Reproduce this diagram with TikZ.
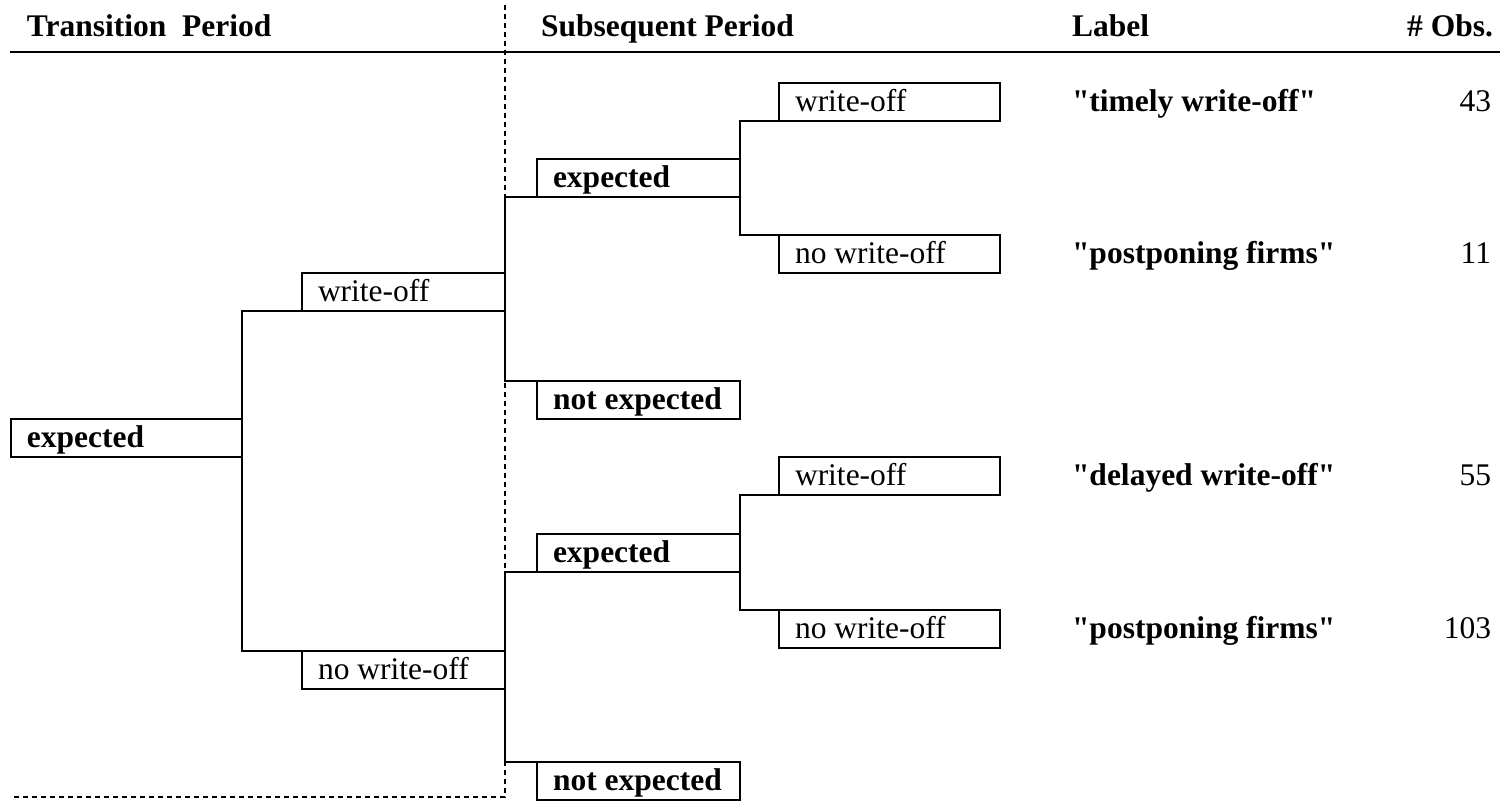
\documentclass[tikz,border=0pt]{standalone}
\usepackage{fontspec}
\setmainfont{Liberation Serif}[Ligatures=TeXOff]
\newcommand\bxtext[2]{\hbox to #1{\hskip16pt #2\hfil}}
\newcommand\qq{\symbol{34}}
\begin{document}
\begin{tikzpicture}[x=1pt,y=-1pt,
  txt/.style={font=\fontsize{31.5}{36}\selectfont, inner sep=0pt, outer sep=0pt},
  bx/.style={txt, draw, line width=2pt, rectangle, anchor=north west,
    inner xsep=0pt, inner ysep=0pt, outer sep=0pt, minimum height=38pt,
    text height=24pt, text depth=5pt},
  bld/.style={font=\fontsize{31.5}{36}\selectfont\bfseries},
  conn/.style={line width=2pt, line join=miter},
  sep/.style={line width=1.6pt, dash pattern=on 5pt off 4pt}]
\useasboundingbox (0,0) rectangle (1505,802);

% headers
\node[txt, bld, anchor=base west] (h1) at (27,37) {Transition\ \ Period};
\node[txt, bld, anchor=base west] (h2) at (541,37) {Subsequent Period};
\node[txt, bld, anchor=base west] (h3) at (1072,37) {Label};
\node[txt, bld, anchor=base east] (h4) at (1493,37) {\# Obs.};
\coordinate (hl) at (10,52);
\coordinate (hr) at (1500,52);
\draw[line width=2pt] (hl) -- (hr);

% separators
\coordinate (dt) at (505,5);
\coordinate (db) at (505,797);
\coordinate (dl) at (10,797);
\draw[sep] (dt) -- (db) -- (dl);

% boxes
\node[bx, bld] (exp1) at (11,419) {\bxtext{231pt}{expected}};
\node[bx] (wo2) at (302,273) {\bxtext{203pt}{write-off}};
\node[bx] (nwo2) at (302,651) {\bxtext{203pt}{no write-off}};
\node[bx, bld] (e3a) at (537,159) {\bxtext{203pt}{expected}};
\node[bx, bld] (ne3a) at (537,381) {\bxtext{203pt}{not expected}};
\node[bx, bld] (e3b) at (537,534) {\bxtext{203pt}{expected}};
\node[bx, bld] (ne3b) at (537,762) {\bxtext{203pt}{not expected}};
\node[bx] (wo3a) at (779,83) {\bxtext{221pt}{write-off}};
\node[bx] (nwo3a) at (779,235) {\bxtext{221pt}{no write-off}};
\node[bx] (wo3b) at (779,457) {\bxtext{221pt}{write-off}};
\node[bx] (nwo3b) at (779,610) {\bxtext{221pt}{no write-off}};

% connectors
\draw[conn] (wo2.south west) -| (exp1.north east) -- (exp1.south east) |- (nwo2.north west);
\draw[conn] (e3a.south west) -| (wo2.north east) -- (wo2.south east) |- (ne3a.north west);
\draw[conn] (e3b.south west) -| (nwo2.north east) -- (nwo2.south east) |- (ne3b.north west);
\draw[conn] (wo3a.south west) -| (e3a.north east) -- (e3a.south east) |- (nwo3a.north west);
\draw[conn] (wo3b.south west) -| (e3b.north east) -- (e3b.south east) |- (nwo3b.north west);

% labels and counts
\coordinate (labx) at (1072,0);
\coordinate (obsx) at (1491,0);
\node[txt, bld, anchor=base west] (l1) at (wo3a.base -| labx) {\qq timely write-off\qq};
\node[txt, bld, anchor=base west] (l2) at (nwo3a.base -| labx) {\qq postponing firms\qq};
\node[txt, bld, anchor=base west] (l3) at (wo3b.base -| labx) {\qq delayed write-off\qq};
\node[txt, bld, anchor=base west] (l4) at (nwo3b.base -| labx) {\qq postponing firms\qq};
\node[txt, anchor=base east] (n1) at (wo3a.base -| obsx) {43};
\node[txt, anchor=base east] (n2) at (nwo3a.base -| obsx) {11};
\node[txt, anchor=base east] (n3) at (wo3b.base -| obsx) {55};
\node[txt, anchor=base east] (n4) at (nwo3b.base -| obsx) {103};
\end{tikzpicture}
\end{document}
